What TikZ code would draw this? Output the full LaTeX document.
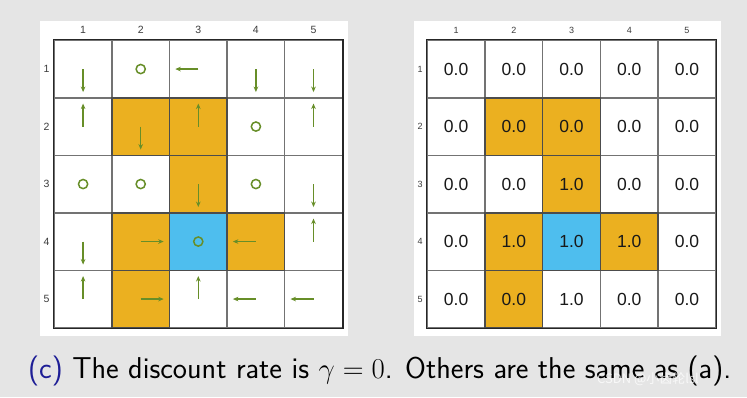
\documentclass[tikz,border=0pt]{standalone}
\usepackage{fontspec}
\newfontfamily\arialf{Liberation Sans}
\newfontfamily\cjkf{Noto Sans CJK SC}
\usetikzlibrary{arrows.meta}
\definecolor{bggray}{RGB}{229,229,229}
\definecolor{cellorange}{RGB}{235,176,32}
\definecolor{cellblue}{RGB}{78,190,238}
\definecolor{arrowgreen}{RGB}{103,142,40}
\definecolor{gridgray}{RGB}{115,115,115}
\definecolor{labelgray}{RGB}{60,60,60}
\definecolor{capblue}{RGB}{30,30,150}
\begin{document}
\begin{tikzpicture}[x=1pt,y=-1pt,
  cellbox/.style={draw=gridgray,line width=1.4pt,inner sep=0pt,minimum width=57.6pt,minimum height=57.5pt},
  hicell/.style={cellbox,draw=black!70},
  pol/.style={draw=arrowgreen,line width=1.5pt,-{Stealth[length=5.5pt,width=4.6pt]}},
  stay/.style={draw=arrowgreen,line width=1.5pt},
  axlab/.style={font=\arialf\fontsize{10.5}{12}\selectfont,text=labelgray,inner sep=0pt},
  axlabs/.style={font=\arialf\fontsize{9}{10}\selectfont,text=labelgray,inner sep=0pt},
  valtxt/.style={font=\arialf\fontsize{17.5}{20}\selectfont,text=black!90}
]
\useasboundingbox[fill=bggray] (0,0) rectangle (747,397);
% panels
\fill[white] (40,21) rectangle (348,336);
\fill[white] (414,21) rectangle (721,336);

% ---------- left grid (policy) ----------
\foreach \r in {1,...,5}{
  \foreach \c in {1,...,5}{
    \node[cellbox] (L-\r-\c) at ({54.3+(\c-0.5)*57.6},{40.3+(\r-0.5)*57.5}) {};
  }
}
\foreach \r/\c in {2/2,2/3,3/3,4/2,4/4,5/2}{
  \node[hicell,fill=cellorange] at (L-\r-\c) {};
}
\node[hicell,fill=cellblue] at (L-4-3) {};
\draw[black!85,line width=1.2pt] (L-1-1.north west) rectangle (L-5-5.south east);
\foreach \c in {1,...,5}{ \node[axlab] (LC-\c) at ({54.3+(\c-0.5)*57.6},30) {\c}; }
\foreach \r in {1,...,5}{ \node[axlab] (LR-\r) at (46.5,{40.3+(\r-0.5)*57.5}) {\r}; }

% policy arrows
\foreach \r/\c/\dx/\dy in {1/1/0/23,1/3/-23/0,1/4/0/23,1/5/0/23,
  2/1/0/-23,2/2/0/23,2/3/0/-23,2/5/0/-23,
  3/3/0/23,3/5/0/23,
  4/1/0/23,4/2/23/0,4/4/-23/0,4/5/0/-23,
  5/1/0/-23,5/2/23/0,5/3/0/-23,5/4/-23/0,5/5/-23/0}{
  \draw[pol] (L-\r-\c.center) -- ++(\dx,\dy);
}
\foreach \r/\c in {1/2,2/4,3/1,3/2,3/4,4/3}{
  \draw[stay] (L-\r-\c.center) circle (4.6pt);
}

% ---------- right grid (values) ----------
\foreach \r in {1,...,5}{
  \foreach \c in {1,...,5}{
    \node[cellbox,minimum width=57.7pt] (R-\r-\c) at ({427.3+(\c-0.5)*57.7},{40.3+(\r-0.5)*57.5}) {};
  }
}
\foreach \r/\c in {2/2,2/3,3/3,4/2,4/4,5/2}{
  \node[hicell,minimum width=57.7pt,fill=cellorange] at (R-\r-\c) {};
}
\node[hicell,minimum width=57.7pt,fill=cellblue] at (R-4-3) {};
\draw[black!85,line width=1.2pt] (R-1-1.north west) rectangle (R-5-5.south east);
\foreach \r/\c/\v in {1/1/0.0,1/2/0.0,1/3/0.0,1/4/0.0,1/5/0.0,
  2/1/0.0,2/2/0.0,2/3/0.0,2/4/0.0,2/5/0.0,
  3/1/0.0,3/2/0.0,3/3/1.0,3/4/0.0,3/5/0.0,
  4/1/0.0,4/2/1.0,4/3/1.0,4/4/1.0,4/5/0.0,
  5/1/0.0,5/2/0.0,5/3/1.0,5/4/0.0,5/5/0.0}{
  \node[valtxt] (V-\r-\c) at (R-\r-\c) {\v};
}
\foreach \c in {1,...,5}{ \node[axlabs] (RC-\c) at ({427.3+(\c-0.5)*57.7},30) {\c}; }
\foreach \r in {1,...,5}{ \node[axlabs] (RR-\r) at (420,{40.3+(\r-0.5)*57.5}) {\r}; }

% ---------- caption ----------
\node[anchor=base west,inner sep=0pt] (cap) at (28,378) {\resizebox{703pt}{!}{\fontsize{26}{30}\selectfont\sffamily\textcolor{capblue}{(c)} The discount rate is $\gamma=0$. Others are the same as (a).}};
\node[anchor=base west,inner sep=0pt,text=white,opacity=0.75,font=\cjkf\fontsize{13}{14}\selectfont] (wm) at (597,383) {CSDN @小齿轮lsl};
\end{tikzpicture}
\end{document}
